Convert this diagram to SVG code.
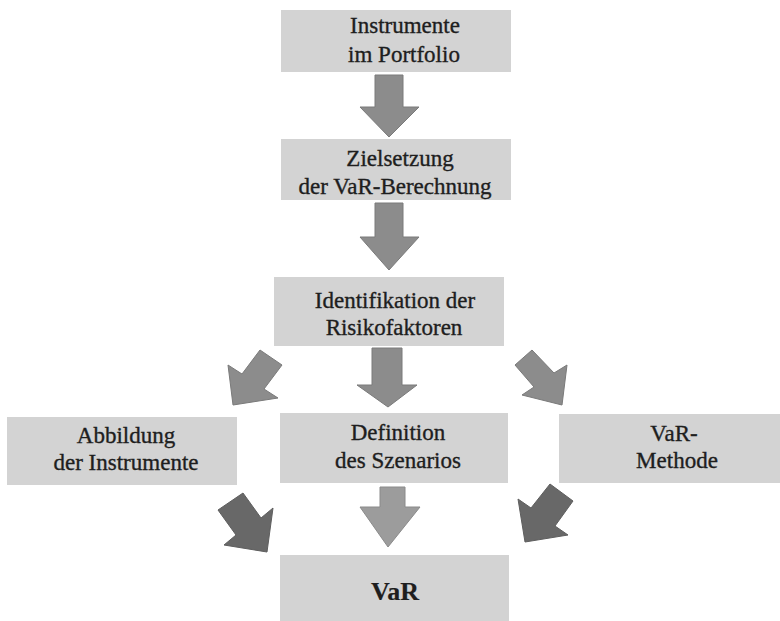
<svg xmlns="http://www.w3.org/2000/svg" width="780" height="621" viewBox="0 0 780 621" font-family="Liberation Serif, DejaVu Serif, serif">
  <style>
    .box { fill: #d3d3d3; }
    .lbl { font-family: 'Liberation Serif', 'DejaVu Serif', serif; font-size: 23px; fill: #1e1e1e; stroke: #1e1e1e; stroke-width: 0.35; text-anchor: middle; }
    .big { font-size: 26px; font-weight: bold; stroke-width: 0.2; }
    .arr { fill: #8c8c8c; stroke: #7a7a7a; stroke-width: 1; stroke-linejoin: miter; }
    .arr-dark { fill: #686868; stroke: #5e5e5e; stroke-width: 1; }
    .arr-light { fill: #9c9c9c; stroke: #8a8a8a; stroke-width: 1; }
  </style>
  <rect width="780" height="621" fill="#ffffff"/>

  <g id="instrumente">
    <rect class="box" x="281" y="10" width="230" height="62"/>
    <text class="lbl" x="405" y="33">Instrumente</text>
    <text class="lbl" x="404" y="62">im Portfolio</text>
  </g>

  <g id="zielsetzung">
    <rect class="box" x="281" y="139" width="230" height="61"/>
    <text class="lbl" x="400" y="166">Zielsetzung</text>
    <text class="lbl" x="395" y="194">der VaR-Berechnung</text>
  </g>

  <g id="risikofaktoren">
    <rect class="box" x="274" y="277" width="230" height="69"/>
    <text class="lbl" x="395" y="308">Identifikation der</text>
    <text class="lbl" x="394" y="335">Risikofaktoren</text>
  </g>

  <g id="abbildung">
    <rect class="box" x="7" y="417" width="230" height="68"/>
    <text class="lbl" x="126" y="443">Abbildung</text>
    <text class="lbl" x="126" y="470">der Instrumente</text>
  </g>

  <g id="szenarios">
    <rect class="box" x="280" y="413" width="228" height="70"/>
    <text class="lbl" x="398" y="440">Definition</text>
    <text class="lbl" x="398" y="468">des Szenarios</text>
  </g>

  <g id="methode">
    <rect class="box" x="559" y="414" width="221" height="69"/>
    <text class="lbl" x="674" y="441">VaR-</text>
    <text class="lbl" x="677" y="468">Methode</text>
  </g>

  <g id="var">
    <rect class="box" x="280" y="555" width="229" height="66"/>
    <text class="lbl big" x="395" y="600">VaR</text>
  </g>

  <g id="connectors">
    <!-- block arrows between the stages -->
    <polygon class="arr" points="375,75 403,75 403,107 419,107 389,137 360,107 375,107"/>
    <polygon class="arr" points="375,203 403,203 403,237 419,237 389,270 360,237 375,237"/>
    <polygon class="arr" points="260,350 282,365 264,389 278,398 233,405 228,365 242,374"/>
    <polygon class="arr" points="372,348 402,348 402,385 417,385 388,407 357,385 372,385"/>
    <polygon class="arr" points="532,350 515,365 534,387 522,395 562,405 567,365 554,373"/>
    <polygon class="arr-dark" points="218,510 243,493 261,518 273,508 267,552 224,545 236,535"/>
    <polygon class="arr-light" points="380,487 405,487 405,507 420,507 388,547 360,507 380,507"/>
    <polygon class="arr-dark" points="550,484 573,501 555,526 568,535 525,542 518,499 531,508"/>
  </g>
</svg>
